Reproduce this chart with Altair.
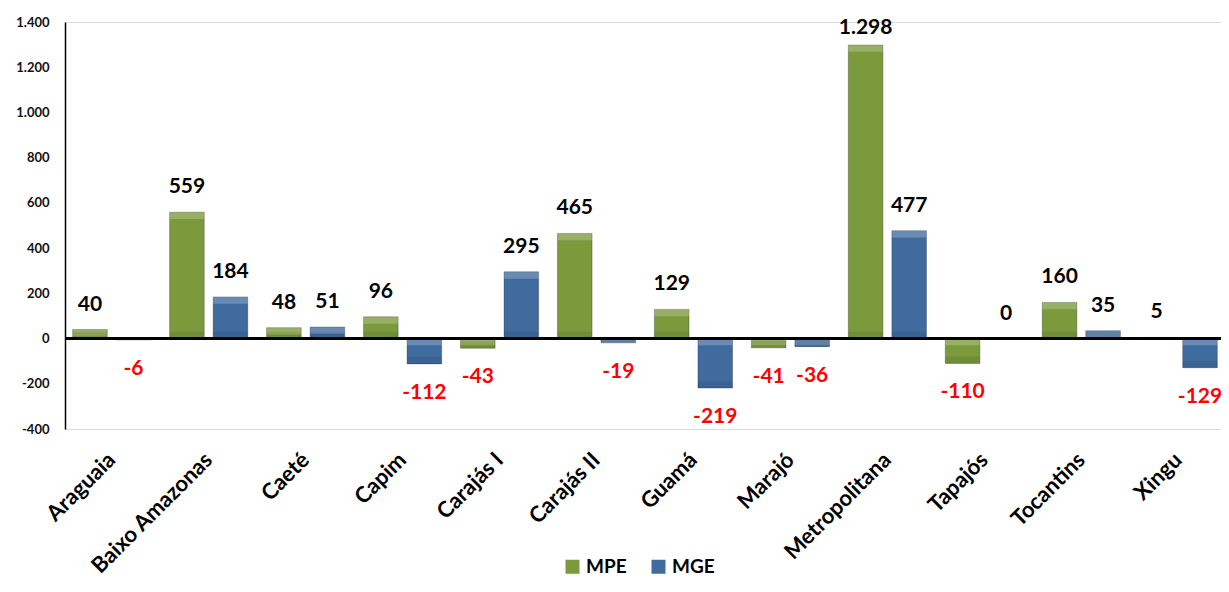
import altair as alt
import pandas as pd

regions = ["Araguaia", "Baixo Amazonas", "Caeté", "Capim", "Carajás I", "Carajás II",
           "Guamá", "Marajó", "Metropolitana", "Tapajós", "Tocantins", "Xingu"]
mpe = [40, 559, 48, 96, -43, 465, 129, -41, 1298, -110, 160, 5]
mge = [-6, 184, 51, -112, 295, -19, -219, -36, 477, 0, 35, -129]
series_names = ["MPE", "MGE"]
y_ticks = [-400, -200, 0, 200, 400, 600, 800, 1000, 1200, 1400]

rows = []
for r, a, b in zip(regions, mpe, mge):
    rows.append({"regiao": r, "serie": "MPE", "valor": a})
    rows.append({"regiao": r, "serie": "MGE", "valor": b})
df = pd.DataFrame(rows)

FONT = "Lato"
FMT = "replace(replace(format({v}, ','), ',', '.'), '\u2212', '-')"

x_enc = alt.X("regiao:N", sort=regions,
              scale=alt.Scale(paddingInner=0.194, paddingOuter=0.079, range=[0, 1160]),
              axis=alt.Axis(title=None, domain=False, ticks=False, labelAngle=-45,
                            labelAlign="right", labelBaseline="middle",
                            labelFontSize=22, labelFontWeight="bold", labelFont=FONT,
                            labelColor="#000000", labelPadding=27, labelOverlap=False))
xo_enc = alt.XOffset("serie:N", sort=series_names,
                     scale=alt.Scale(domain=series_names, paddingInner=0.2045, paddingOuter=0))
y_scale = alt.Scale(domain=[-400, 1400], nice=False, zero=True)
y_axis = alt.Axis(title=None, values=y_ticks, grid=False, ticks=False,
                  domainColor="#000000", domainWidth=1.5,
                  labelFont=FONT, labelFontSize=13, labelFontWeight="bold",
                  labelColor="#111111", labelPadding=16,
                  labelExpr=FMT.format(v="datum.value"))

base = alt.Chart(df).transform_calculate(
    rotulo=FMT.format(v="datum.valor"),
    lab_y="min(datum.valor, 1265)",
    topo="max(datum.valor, 0)",
    base0="min(datum.valor, 0)",
    hl_end="max(datum.valor, 0) - min(abs(datum.valor), 30)",
    sh_end="min(datum.valor, 0) + min(abs(datum.valor), 30)",
)

bars = base.mark_bar(stroke="#000000", strokeOpacity=0.25, strokeWidth=1).encode(
    x=x_enc, xOffset=xo_enc,
    y=alt.Y("valor:Q", scale=y_scale, axis=y_axis),
    y2=alt.datum(0),
    color=alt.Color("serie:N", sort=series_names,
                    scale=alt.Scale(domain=series_names, range=["#7A9A3C", "#3F6B9F"]),
                    legend=alt.Legend(title=None, orient="none", direction="horizontal",
                                      legendX=498, legendY=535, symbolType="square",
                                      symbolSize=196, symbolStrokeWidth=0,
                                      labelFont=FONT, labelFontSize=19, labelFontWeight="bold",
                                      labelColor="#000000", labelOffset=4, columnPadding=22)),
)

highlight = base.transform_filter("datum.valor != 0").mark_bar(color="#FFFFFF", opacity=0.22).encode(
    x=x_enc, xOffset=xo_enc,
    y=alt.Y("topo:Q", scale=y_scale),
    y2=alt.Y2("hl_end:Q"),
)

shade = base.transform_filter("datum.valor != 0").mark_bar(color="#000000", opacity=0.08).encode(
    x=x_enc, xOffset=xo_enc,
    y=alt.Y("base0:Q", scale=y_scale),
    y2=alt.Y2("sh_end:Q"),
)

zero_rule = alt.Chart(df).mark_rule(color="#000000", strokeWidth=1.5).encode(
    y=alt.datum(0)
)

pos_labels = base.transform_filter("datum.valor >= 0").mark_text(
    font=FONT, fontSize=21, fontWeight="bold", baseline="alphabetic", dy=-19, color="#000000"
).encode(x=x_enc, xOffset=xo_enc, y=alt.Y("lab_y:Q", scale=y_scale), text="rotulo:N")

neg_labels = base.transform_filter("datum.valor < 0").mark_text(
    font=FONT, fontSize=21, fontWeight="bold", baseline="top", dy=18, color="#FF0000"
).encode(x=x_enc, xOffset=xo_enc, y=alt.Y("valor:Q", scale=y_scale), text="rotulo:N")

chart = alt.layer(bars, highlight, shade, zero_rule, pos_labels, neg_labels).properties(
    width=1156, height=407,
    autosize=alt.AutoSizeParams(type="none"),
    padding={"left": 57, "top": 14, "right": 0, "bottom": 149},
).configure_view(stroke=None).configure(background="#FFFFFF")

chart.save("out.html", embed_options={"renderer": "svg", "actions": False})
